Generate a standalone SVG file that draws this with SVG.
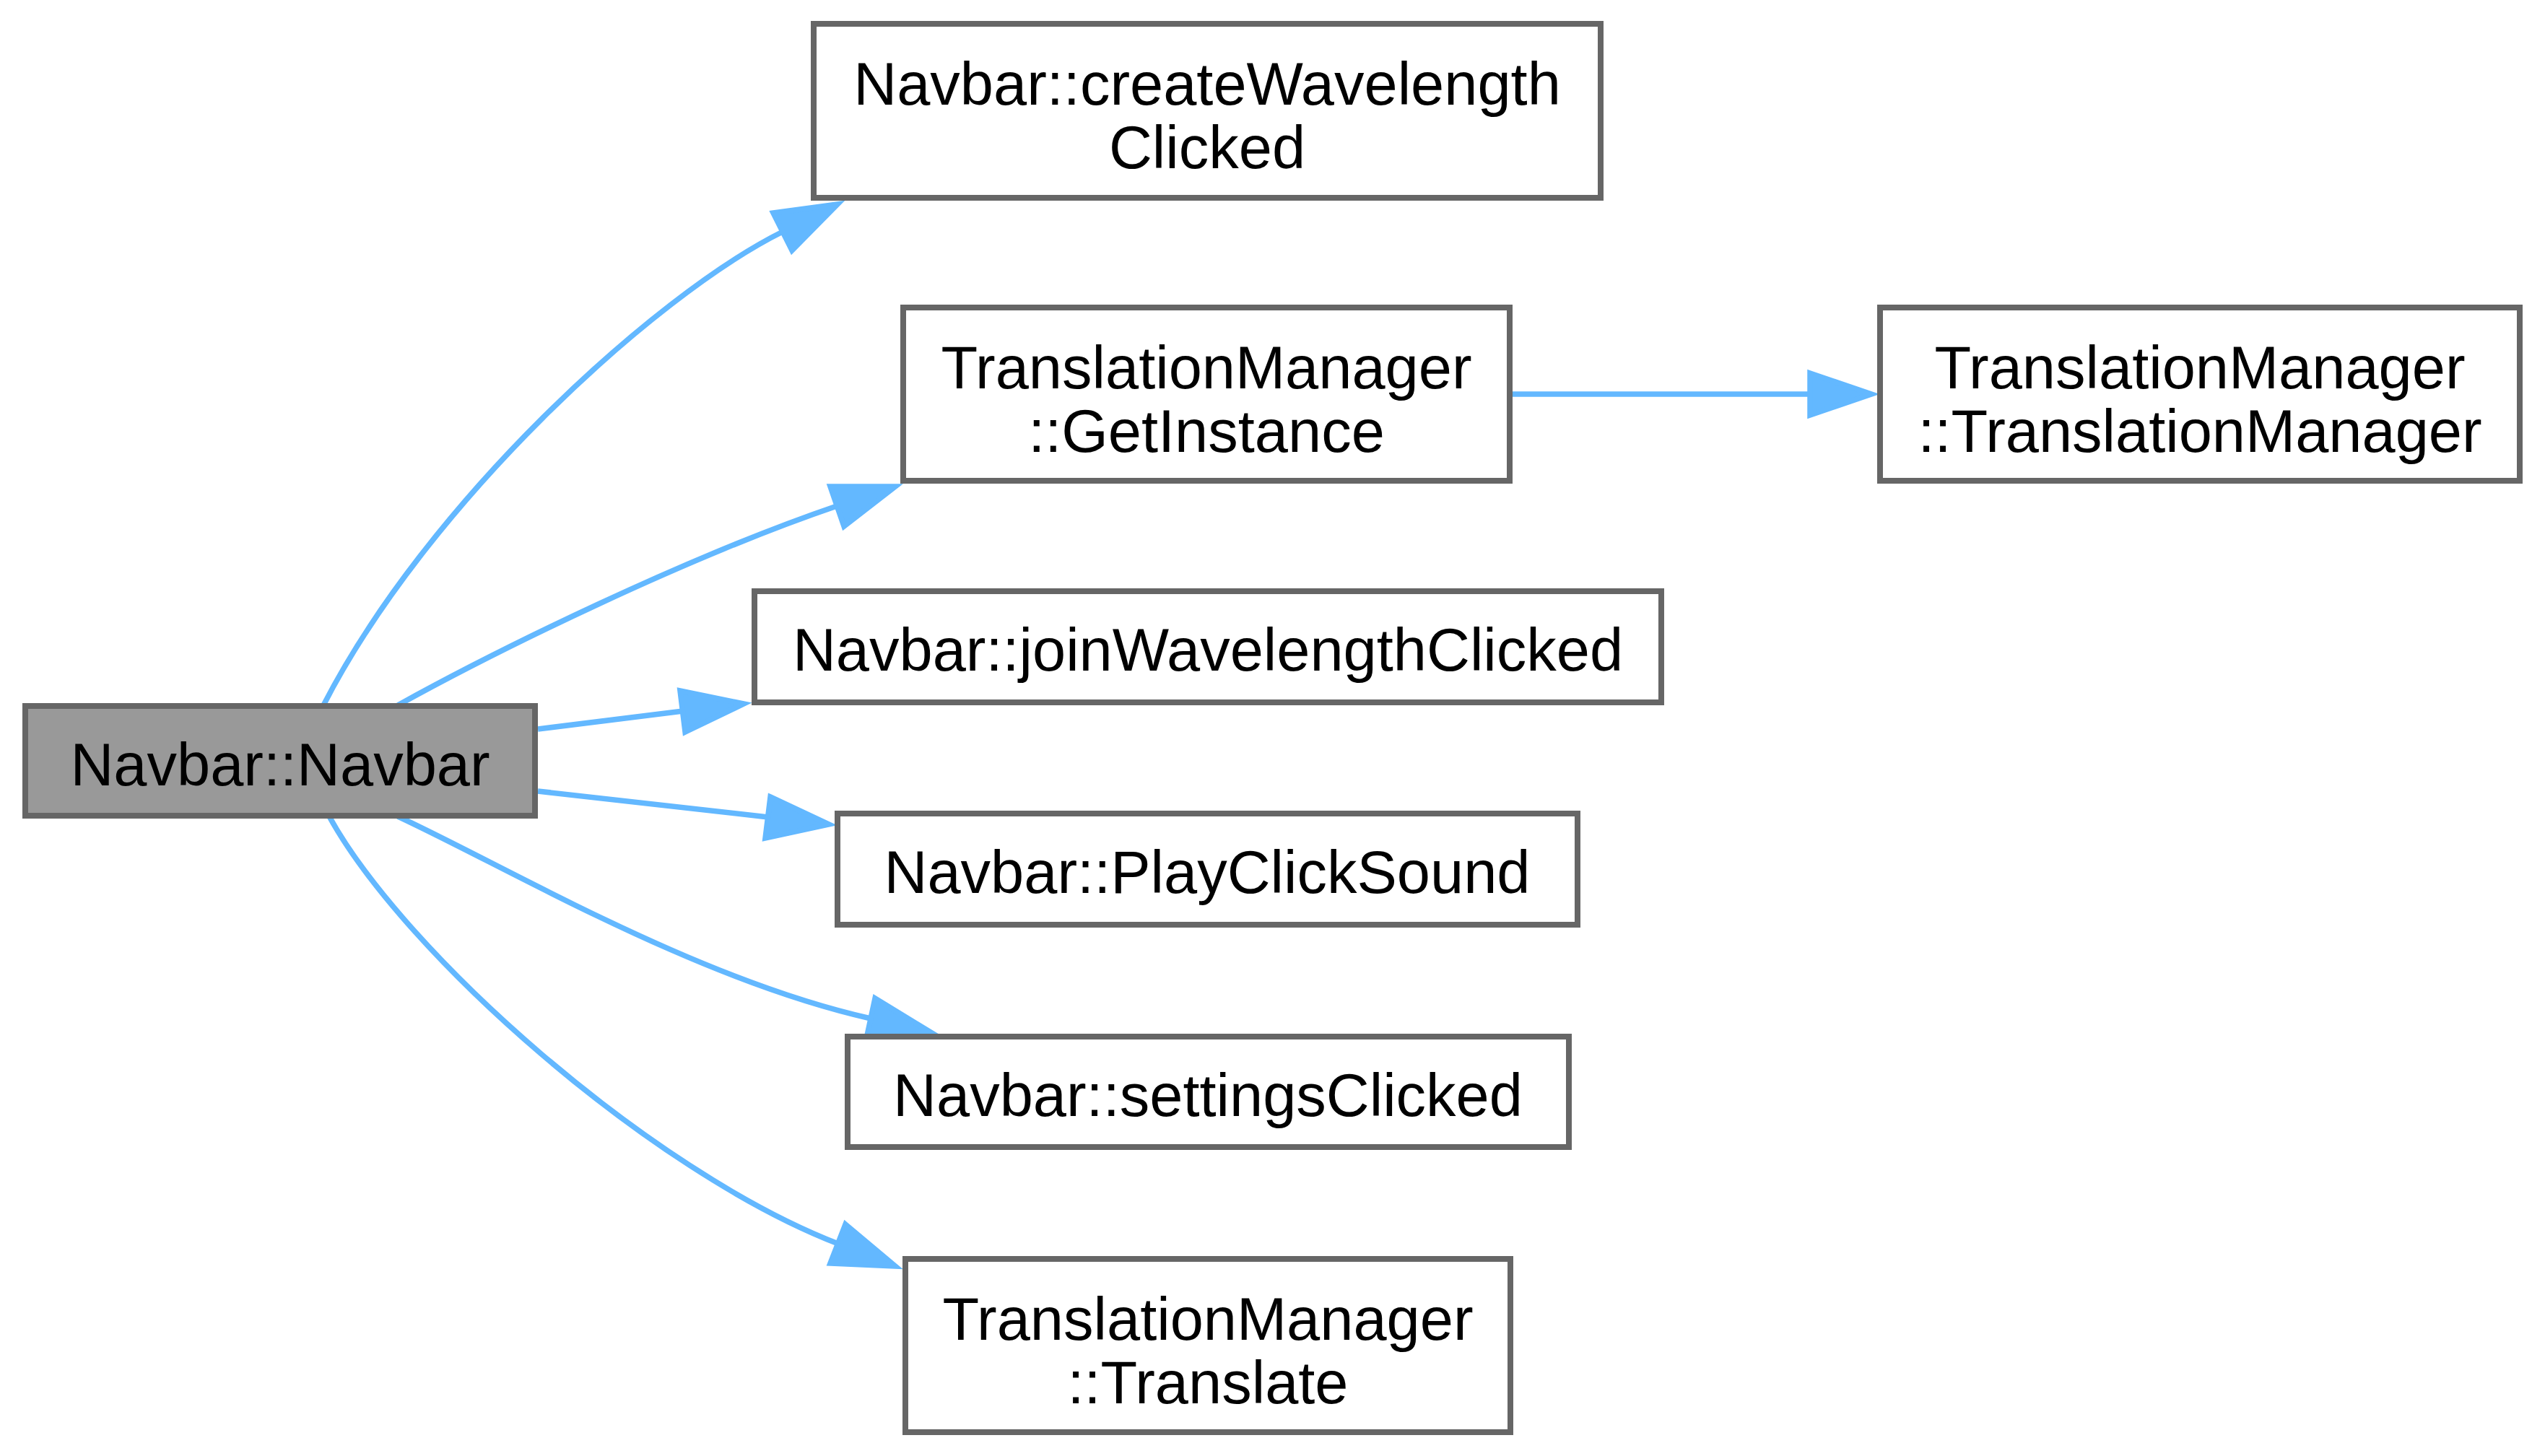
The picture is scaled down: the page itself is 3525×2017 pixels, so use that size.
<svg xmlns="http://www.w3.org/2000/svg" width="3525" height="2017" viewBox="0 0 3525 2017">
<style>
.node rect { fill:#ffffff; stroke:#666666; stroke-width:8; }
.node.root rect { fill:#999999; }
.node text { font-family:"Liberation Sans", Arial, Helvetica, sans-serif; font-size:83px; fill:#000000; text-anchor:middle; }
.edges path { fill:none; stroke:#63b8ff; stroke-width:7.5; }
.edges polygon { fill:#63b8ff; stroke:#63b8ff; stroke-width:7.5; }
</style>
<rect x="0" y="0" width="3525" height="2017" fill="#ffffff"/>
<g id="edges" class="edges">
  <g id="e1"><path d="M448,977 C590,700 905,410 1084,321"/><polygon points="1071,295 1160,283 1097,347"/></g>
  <g id="e2"><path d="M551,977 C690,900 951,772 1159,701"/><polygon points="1150,674 1240,674 1169,729"/></g>
  <g id="e3"><path d="M745,1010 L946,985"/><polygon points="942,957 1030,975 949,1014"/></g>
  <g id="e4"><path d="M745,1096 L1064,1132"/><polygon points="1067,1104 1148,1142 1060,1161"/></g>
  <g id="e5"><path d="M551,1131 C700,1200 962,1356 1206,1411"/><polygon points="1212,1383 1289,1430 1200,1439"/></g>
  <g id="e6"><path d="M456,1131 C560,1320 900,1622 1161,1723"/><polygon points="1171,1696 1240,1754 1150,1750"/></g>
  <g id="e7"><path d="M2095,546 L2507,546"/><polygon points="2507,517 2592,546 2507,575"/></g>
</g>
<g id="node-navbar" class="node root">
  <rect x="35" y="978" width="706" height="152"/>
  <text x="388" y="1088">Navbar::Navbar</text>
</g>
<g id="node-createWavelength" class="node">
  <rect x="1127" y="33" width="1090" height="241"/>
  <text x="1672" y="145">Navbar::createWavelength</text>
  <text x="1672" y="233">Clicked</text>
</g>
<g id="node-getInstance" class="node">
  <rect x="1251" y="426" width="840" height="240"/>
  <text x="1671" y="538">TranslationManager</text>
  <text x="1671" y="626">::GetInstance</text>
</g>
<g id="node-tmCtor" class="node">
  <rect x="2604" y="426" width="886" height="240"/>
  <text x="3047" y="538">TranslationManager</text>
  <text x="3047" y="626">::TranslationManager</text>
</g>
<g id="node-joinWavelength" class="node">
  <rect x="1045" y="819" width="1256" height="154"/>
  <text x="1673" y="929">Navbar::joinWavelengthClicked</text>
</g>
<g id="node-playClickSound" class="node">
  <rect x="1160" y="1127" width="1025" height="154"/>
  <text x="1672" y="1237">Navbar::PlayClickSound</text>
</g>
<g id="node-settingsClicked" class="node">
  <rect x="1174" y="1436" width="999" height="153"/>
  <text x="1673" y="1546">Navbar::settingsClicked</text>
</g>
<g id="node-translate" class="node">
  <rect x="1254" y="1744" width="838" height="240"/>
  <text x="1673" y="1856">TranslationManager</text>
  <text x="1673" y="1944">::Translate</text>
</g>
</svg>
